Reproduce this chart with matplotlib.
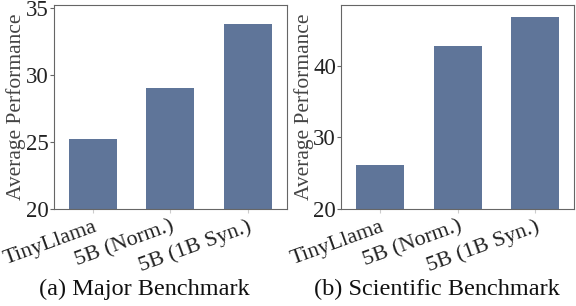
import matplotlib
matplotlib.use("Agg")
import matplotlib.pyplot as plt

plt.rcParams['font.family'] = ['Liberation Serif', 'DejaVu Serif']

# ===================== data =====================
models = ["TinyLlama", "5B (Norm.)", "5B (1B Syn.)"]
major_scores = [25.2, 29.0, 33.8]
sci_scores = [26.1, 42.8, 46.8]

bar_color = "#5f7599"
spine_color = "#666666"

fig, axes = plt.subplots(1, 2, figsize=(5.76, 3.06), dpi=100)

panels = [
    (axes[0], major_scores, (20, 35.2), [20, 25, 30, 35]),
    (axes[1], sci_scores, (20, 48.5), [20, 30, 40]),
]
captions = ["(a) Major Benchmark", "(b) Scientific Benchmark"]
caption_x = [0.25, 0.758]

for ax, scores, ylim, yticks in panels:
    ax.bar(range(len(models)), scores, width=0.62, color=bar_color)
    ax.set_xlim(-0.5, 2.5)
    ax.set_ylim(*ylim)
    ax.set_yticks(yticks)
    ax.set_xticks(range(len(models)))
    ax.set_xticklabels(models, rotation=20, ha="right", rotation_mode="anchor",
                       fontsize=16, color="#222222")
    ax.tick_params(axis="y", labelsize=16.5, length=3, color=spine_color, pad=1,
                   labelcolor="#222222")
    ax.tick_params(axis="x", length=3, color="#cccccc", pad=3)
    ax.set_ylabel("Average Performance", fontsize=15.5, color="#444444")
    ax.yaxis.set_label_coords(-0.12, 0.5)
    for s in ax.spines.values():
        s.set_color(spine_color)

for cx, caption in zip(caption_x, captions):
    fig.text(cx, 0.088, caption, ha="center", va="top", fontsize=17.5, color="#111111")

fig.subplots_adjust(left=0.094, right=0.9965, top=0.984, bottom=0.317, wspace=0.236)
fig.savefig("out.png", dpi=100)
